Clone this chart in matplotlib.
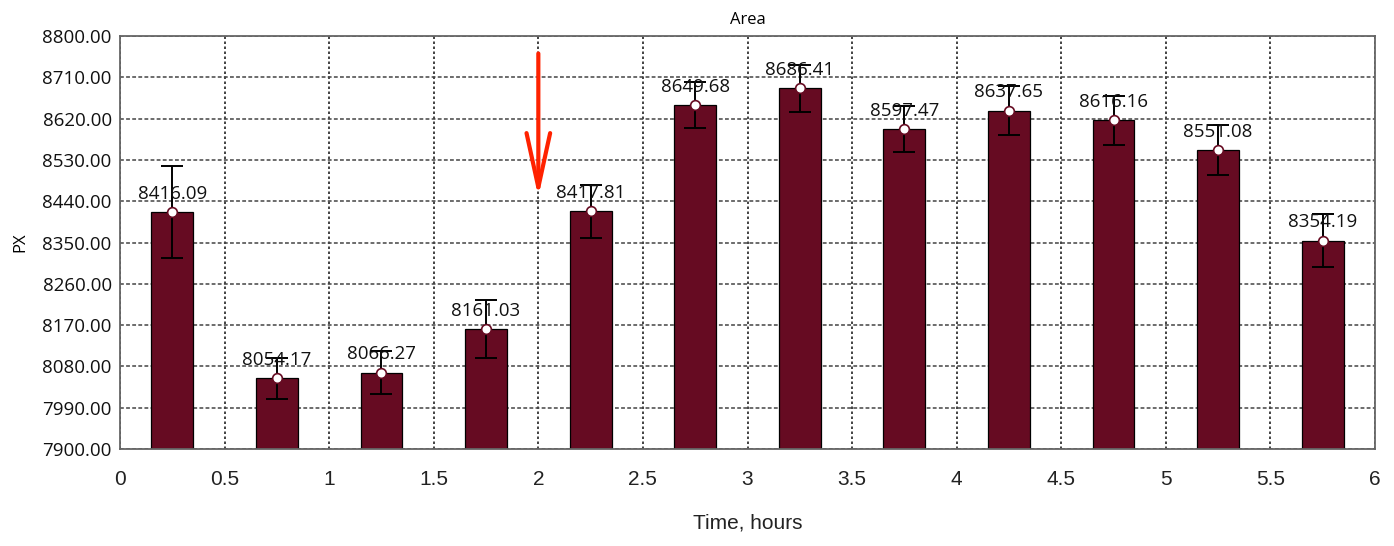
import numpy as np
import matplotlib.pyplot as plt
from matplotlib.ticker import FormatStrFormatter

# mean area per half-hour bin
time_h = [0.25, 0.75, 1.25, 1.75, 2.25, 2.75, 3.25, 3.75, 4.25, 4.75, 5.25, 5.75]
area = [8416.09, 8054.17, 8066.27, 8161.03, 8417.81, 8649.68,
        8686.41, 8597.47, 8637.65, 8616.16, 8551.08, 8354.19]
err = [100, 45, 47, 63, 58, 51, 51, 50, 54, 54, 54, 58]

yticks = np.arange(7900, 8801, 90)
xticks = np.arange(0, 6.01, 0.5)
xticklabels = ['0', '0.5', '1', '1.5', '2', '2.5', '3', '3.5', '4', '4.5', '5', '5.5', '6']

bar_color = '#660b22'

fig = plt.figure(figsize = (13.94, 5.46), dpi = 100)
ax = fig.add_axes([120 / 1394, 1 - 449 / 546, 1255 / 1394, 413 / 546])

ax.bar(time_h, np.array(area) - 7900, bottom = 7900, width = 0.2,
       color = bar_color, edgecolor = 'black', linewidth = 0.9, zorder = 2)
ax.errorbar(time_h, area, yerr = err, fmt = 'none', ecolor = 'black',
            elinewidth = 1.4, capsize = 8, capthick = 1.4, zorder = 3)
ax.plot(time_h, area, 'o', markersize = 7, markerfacecolor = 'white',
        markeredgecolor = bar_color, markeredgewidth = 1.2, zorder = 4)

for x, v in zip(time_h, area):
    ax.text(x, v + 40, '{:.2f}'.format(v), ha = 'center', va = 'center',
            fontsize = 13.5, family = 'Open Sans', color = '#111111', zorder = 5)

# marker for the 2 h point
ax.annotate('', xy = (2.0, 8443), xytext = (2.0, 8768),
            arrowprops = dict(arrowstyle = '->,head_length=3.9,head_width=0.85',
                              color = '#ff2200', lw = 3), zorder = 6)

ax.set_xlim(0, 6)
ax.set_ylim(7900, 8800)
ax.set_yticks(yticks)
ax.yaxis.set_major_formatter(FormatStrFormatter('%.2f'))
ax.set_xticks(xticks)
ax.set_xticklabels(xticklabels)

ax.tick_params(axis = 'y', length = 0, pad = 6, labelsize = 13.5)
ax.tick_params(axis = 'x', length = 0, pad = 15, labelsize = 15)
for lab in ax.get_yticklabels():
    lab.set_family('Open Sans')
    lab.set_color('#111111')
for lab in ax.get_xticklabels():
    lab.set_family('Liberation Sans')
    lab.set_color('#222222')

ax.grid(axis = 'x', color = '#222222', linestyle = (0, (1.5, 1.5)), linewidth = 1.2, zorder = 0)
ax.grid(axis = 'y', color = '#444444', linestyle = (0, (2.5, 1.5)), linewidth = 1.1, zorder = 0)
ax.set_axisbelow(True)

for s in ax.spines.values():
    s.set_color('#666666')
    s.set_linewidth(1.3)

ax.set_title('Area', fontsize = 12, family = 'Open Sans', pad = 9)
ax.set_ylabel('PX', fontsize = 12, family = 'Open Sans', labelpad = 10)
ax.set_xlabel('Time, hours', fontsize = 15, family = 'Liberation Sans', labelpad = 18, color = '#222222')

fig.savefig('out.png', dpi = 100)
